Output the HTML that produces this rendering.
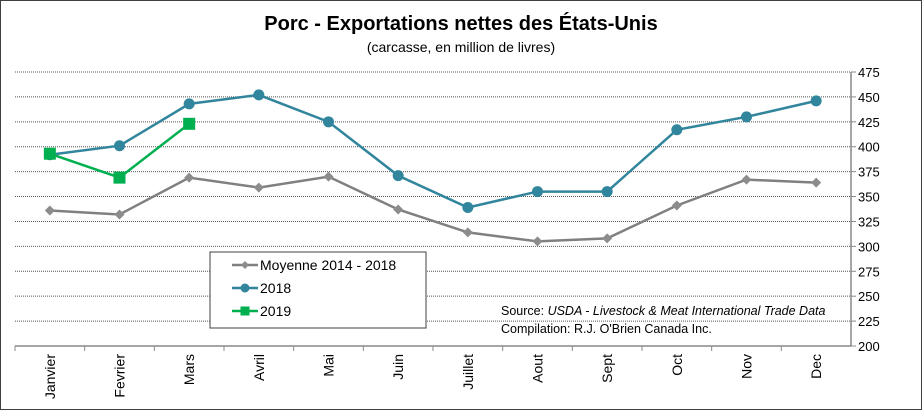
<!DOCTYPE html>
<html><head><meta charset="utf-8"><style>
body{margin:0;background:#fff}
svg{display:block;font-family:"Liberation Sans",Arial,sans-serif}
</style></head><body>
<svg id="c" width="922" height="410">
<rect x="0.5" y="0.5" width="921" height="409" fill="#fff" stroke="#404040"/>
<text x="461" y="30" text-anchor="middle" font-size="20" font-weight="bold">Porc - Exportations nettes des États-Unis</text>
<text x="461" y="52" text-anchor="middle" font-size="14">(carcasse, en million de livres)</text>
<g id="grid"></g><g id="series"></g>
<g>
<rect x="210" y="252" width="216" height="76" fill="#fff" stroke="#404040"/>
<g><line x1="232" y1="265" x2="258" y2="265" stroke="#808080" stroke-width="2.5"/><path d="M245 261 L249 265 L245 269 L241 265Z" fill="#8c8c8c"/><text x="260" y="270" font-size="14">Moyenne 2014 - 2018</text></g>
<g><line x1="232" y1="288" x2="258" y2="288" stroke="#31859c" stroke-width="2.5"/><circle cx="245" cy="288" r="4.5" fill="#31859c"/><text x="260" y="293" font-size="14">2018</text></g>
<g><line x1="232" y1="311" x2="258" y2="311" stroke="#00b050" stroke-width="2.5"/><rect x="240.5" y="306.5" width="9" height="9" fill="#00b050"/><text x="260" y="316" font-size="14">2019</text></g>
</g>
<text x="501" y="315" font-size="12.5">Source: <tspan font-style="italic">USDA - Livestock &amp; Meat International Trade Data</tspan></text>
<text x="501" y="333" font-size="12.5">Compilation:  R.J. O'Brien Canada Inc.</text>
</svg>
<script>
const categories=["Janvier","Fevrier","Mars","Avril","Mai","Juin","Juillet","Aout","Sept","Oct","Nov","Dec"];
const moyenne=[336,332,369,359,370,337,314,305,308,341,367,364];
const s2018=[392,401,443,452,425,371,339,355,355,417,430,446];
const s2019=[393,369,423];
const yTicks=[200,225,250,275,300,325,350,375,400,425,450,475];
const NS="http://www.w3.org/2000/svg";
const L=15,R=851,T=72,B=346,ymin=200,ymax=475;
const bw=(R-L)/categories.length;
const x=i=>L+bw*(i+0.5);
const y=v=>B-(v-ymin)/(ymax-ymin)*(B-T);
function mk(t,a,p){const e=document.createElementNS(NS,t);for(const k in a)e.setAttribute(k,a[k]);p.appendChild(e);return e;}
const g=document.getElementById('grid');
yTicks.forEach(v=>{
 if(v>ymin){const l=mk('line',{x1:L,x2:R,y1:y(v),y2:y(v),stroke:'#555','stroke-dasharray':'1 1'},g);
 
 }
 mk('line',{x1:R,x2:R+5,y1:y(v),y2:y(v),stroke:'#888'},g);
 const t=mk('text',{x:R+7,y:y(v)+5,'font-size':13},g);t.textContent=v;
 
 
});
const ax=mk('line',{x1:R,x2:R,y1:T,y2:B,stroke:'#888','stroke-width':1.5},g);


const xa=mk('line',{x1:L,x2:R,y1:B,y2:B,stroke:'#888','stroke-width':1.5},g);


categories.forEach((c,i)=>{
 mk('line',{x1:L+bw*i,x2:L+bw*i,y1:B,y2:B+5,stroke:'#888'},g);
 const t=mk('text',{transform:`translate(${x(i)+5},${B+8}) rotate(-90)`,'text-anchor':'end','font-size':14},g);t.textContent=c;
 
 
});
const sg=document.getElementById('series');
function line(data,col,name,mark){
 const gg=mk('g',{},sg);
 
 
 mk('polyline',{points:data.map((v,i)=>x(i)+','+y(v)).join(' '),fill:'none',stroke:col,'stroke-width':2.5},gg);
 data.forEach((v,i)=>{let m;
  if(mark==='d')m=mk('path',{d:`M${x(i)} ${y(v)-5} L${x(i)+5} ${y(v)} L${x(i)} ${y(v)+5} L${x(i)-5} ${y(v)}Z`,fill:'#8c8c8c'},gg);
  else if(mark==='c')m=mk('circle',{cx:x(i),cy:y(v),r:5.5,fill:'#31859c'},gg);
  else m=mk('rect',{x:x(i)-6,y:y(v)-6,width:12,height:12,fill:'#00b050'},gg);
  
  
 });
}
line(moyenne,'#808080','series-moyenne','d');
line(s2018,'#31859c','series-2018','c');
line(s2019,'#00b050','series-2019','s');
</script>
</body></html>
